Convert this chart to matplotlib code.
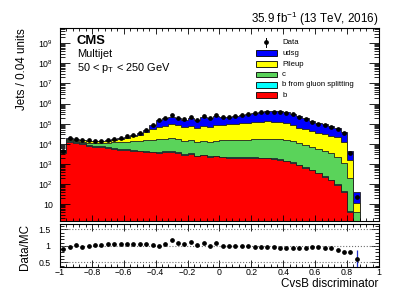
import numpy as np
import matplotlib
matplotlib.use("Agg")
import matplotlib.pyplot as plt
from matplotlib.patches import Rectangle
from matplotlib.lines import Line2D
from matplotlib.ticker import (MultipleLocator, FixedLocator, FuncFormatter,
                               LogLocator, NullFormatter)

plt.rcParams["font.family"] = ["Liberation Sans", "DejaVu Sans"]
plt.rcParams["mathtext.fontset"] = "custom"
plt.rcParams["mathtext.rm"] = "Liberation Sans"
plt.rcParams["mathtext.it"] = "Liberation Sans:italic"
plt.rcParams["mathtext.bf"] = "Liberation Sans:bold"

# --- binning: CvsB discriminator, 0.04 wide bins from -1 to 1 (filled up to 0.88) ---
X_LO, X_HI, N_BINS = -1.0, 1.0, 50

# --- MC components per bin (jets) ---
b = [3550, 12600, 10960, 9550, 8320, 7410, 6760, 6170, 5620, 5250,
     4900, 4570, 4270, 3980, 3800, 3720, 3890, 4170, 3630, 2820,
     3090, 2460, 2750, 2240, 2460, 2140, 2090, 2040, 2040, 2000,
     2000, 1950, 1910, 1780, 1620, 1410, 1180, 891, 661, 479,
     347, 240, 158, 95.5, 41.7, 4.2, 0]
b_gsplit = [180, 1500, 1300, 1150, 1000, 900, 800, 740, 670, 630,
            590, 370, 340, 320, 300, 300, 310, 330, 290, 230,
            250, 150, 170, 130, 150, 130, 125, 120, 120, 120,
            120, 115, 115, 105, 100, 85, 70, 55, 40, 30,
            20, 15, 10, 6, 3, 0.3, 0]
c = [253, 1050, 1230, 1320, 1700, 2300, 3160, 4310, 5460, 6420,
     7390, 8550, 9520, 10490, 11750, 12970, 13580, 14120, 12680, 10750,
     12150, 10280, 11530, 10510, 11850, 12520, 12930, 13330, 13690, 14100,
     14490, 14920, 15760, 16320, 15660, 13990, 12560, 9770, 8010, 6740,
     5260, 4210, 3220, 2190, 1030, 195, 4.2]
pileup = [696, 2240, 2730, 3120, 2700, 2560, 2770, 3230, 4100, 5480,
          7540, 10500, 14710, 23230, 37850, 53810, 63500, 76880, 66580, 55380,
          58640, 48780, 64980, 57910, 72650, 74340, 78190, 82230, 88850, 95980,
          100900, 108900, 114000, 110600, 102800, 91710, 69380, 53850, 43770, 36410,
          30690, 26430, 22310, 18600, 11810, 1350, 6.8]
udsg = [335, 1700, 1300, 1200, 1000, 700, 700, 750, 1100, 1270,
        1970, 2930, 5830, 12100, 29480, 77110, 104900, 133600, 103000, 93000,
        125400, 89700, 144500, 115400, 152800, 134800, 135800, 153500, 170700, 196800,
        221300, 245600, 275600, 288100, 287200, 255900, 233000, 180900, 133700, 91250,
        68390, 62430, 51920, 43680, 27860, 3020, 28.8]

# --- data ---
data = [4570, 19050, 17380, 15850, 14790, 13800, 14450, 15490, 17380, 19950,
        23440, 28180, 35480, 51290, 85110, 147900, 195000, 269200, 204200, 169800,
        223900, 154900, 245500, 186200, 263000, 223900, 229100, 251200, 269200, 302000,
        331100, 363100, 389000, 398100, 380200, 338800, 295100, 229100, 173800, 128800,
        100000, 87100, 72440, 57540, 33110, 3715, 24]

# --- ratio panel (Data/MC) ---
ratio = [0.91, 0.97, 1.01, 0.96, 1.00, 1.01, 1.03, 1.04, 1.04, 1.04,
         1.04, 1.04, 1.04, 1.04, 1.03, 1.00, 1.06, 1.17, 1.09, 1.04,
         1.12, 1.02, 1.10, 1.00, 1.09, 1.00, 1.00, 1.00, 0.98, 0.98,
         0.97, 0.97, 0.96, 0.95, 0.94, 0.93, 0.93, 0.94, 0.94, 0.95,
         0.95, 0.94, 0.93, 0.88, 0.81, 0.81, 0.61]
ratio_err = [0.02, 0.01, 0.01, 0.01, 0.01, 0.01, 0.01, 0.01, 0.01, 0.01,
             0.01, 0.01, 0.01, 0.01, 0.01, 0.01, 0.01, 0.01, 0.01, 0.01,
             0.01, 0.01, 0.01, 0.01, 0.01, 0.01, 0.01, 0.01, 0.01, 0.01,
             0.01, 0.01, 0.01, 0.01, 0.01, 0.01, 0.01, 0.01, 0.01, 0.01,
             0.01, 0.01, 0.01, 0.01, 0.01, 0.02, 0.25]

LAYERS = [
    ("b", b, "#ff0000"),
    ("b from gluon splitting", b_gsplit, "#00ffff"),
    ("c", c, "#5ad35a"),
    ("Pileup", pileup, "#ffff00"),
    ("udsg", udsg, "#0000ff"),
]

FONT_TICK = 6.3
FONT_TITLE = 8.4


def _tick_label(v, _pos):
    v = round(v, 6)
    if abs(v) < 1e-9:
        return "0"
    return f"{v:g}".replace("-", "\u2212")


def _log_label(v, _pos):
    k = int(round(np.log10(v)))
    return "10" if k == 1 else rf"$10^{{{k}}}$"


def main() -> None:
    n = len(data)
    edges = np.linspace(X_LO, X_HI, N_BINS + 1)[: n + 1]
    centers = 0.5 * (edges[:-1] + edges[1:])

    fig = plt.figure(figsize=(4.07, 2.93), dpi=100, facecolor="white")
    ax = fig.add_axes([0.1474, 0.2457, 0.7838, 0.6587])
    rax = fig.add_axes([0.1474, 0.0898, 0.7838, 0.1447])

    # stacked MC: draw cumulative sums from the top down, like THStack
    stack = np.cumsum(np.vstack([np.asarray(v, float) for _, v, _ in LAYERS]), axis=0)
    for k in range(len(LAYERS) - 1, -1, -1):
        ax.stairs(stack[k], edges, baseline=1e-2, fill=True,
                  facecolor=LAYERS[k][2], edgecolor="#202020", linewidth=0.6)

    ax.plot(centers, data, "o", color="black", markersize=2.4, zorder=5)

    ax.set_xlim(X_LO, X_HI)
    ax.set_yscale("log")
    ax.set_ylim(1.48, 5.7e9)
    ax.xaxis.set_major_locator(MultipleLocator(0.2))
    ax.xaxis.set_minor_locator(MultipleLocator(0.04))
    ax.yaxis.set_major_locator(FixedLocator([10.0 ** k for k in range(1, 10)]))
    ax.yaxis.set_major_formatter(FuncFormatter(_log_label))
    ax.yaxis.set_minor_locator(LogLocator(base=10, subs=np.arange(2, 10), numticks=100))
    ax.yaxis.set_minor_formatter(NullFormatter())
    ax.tick_params(which="both", direction="in", top=True, right=True, width=0.6)
    ax.tick_params(axis="y", which="major", length=7.5, pad=5, labelsize=FONT_TICK)
    ax.tick_params(axis="y", which="minor", length=3.8)
    ax.tick_params(axis="x", which="major", length=4.5, labelbottom=False)
    ax.tick_params(axis="x", which="minor", length=2.2)
    for s in ax.spines.values():
        s.set_linewidth(0.8)

    # legend
    leg_x0, leg_w, leg_h = 0.614, 0.066, 0.029
    leg_rows = [0.926, 0.869, 0.813, 0.760, 0.705, 0.652]
    ax.plot([leg_x0 + leg_w / 2], [leg_rows[0]], "o", color="black", markersize=2.4,
            transform=ax.transAxes)
    ax.add_line(Line2D([leg_x0 + leg_w / 2] * 2, [leg_rows[0] - 0.022, leg_rows[0] + 0.022],
                       color="black", lw=0.7, transform=ax.transAxes))
    ax.text(leg_x0 + 0.082, leg_rows[0], "Data", transform=ax.transAxes,
            fontsize=5.6, va="center", ha="left")
    for row, (label, _, col) in zip(leg_rows[1:], LAYERS[::-1]):
        ax.add_patch(Rectangle((leg_x0, row - leg_h / 2), leg_w, leg_h, facecolor=col,
                               edgecolor="black", linewidth=0.6, transform=ax.transAxes))
        ax.text(leg_x0 + 0.082, row, label, transform=ax.transAxes,
                fontsize=5.6, va="center", ha="left")

    ax.text(0.053, 0.933, "CMS", transform=ax.transAxes, fontsize=9.4,
            fontweight="bold", va="center", ha="left")
    ax.text(0.053, 0.865, "Multijet", transform=ax.transAxes, fontsize=7.9,
            va="center", ha="left")
    ax.text(0.053, 0.793, r"50 < p$_\mathregular{T}$ < 250 GeV", transform=ax.transAxes,
            fontsize=7.9, va="center", ha="left")

    fig.text(0.929, 0.935, r"35.9 fb$^{\mathregular{-1}}$ (13 TeV, 2016)", fontsize=8.4,
             ha="right", va="center")
    fig.text(0.055, 0.904, "Jets / 0.04 units", rotation=90, fontsize=FONT_TITLE,
             ha="center", va="top")

    # ratio panel
    for yl in (0.5, 1.0, 1.5):
        rax.axhline(yl, color="#707070", linestyle=":", linewidth=0.8)
    rax.errorbar(centers, ratio, yerr=ratio_err, fmt="o", color="black", markersize=2.4,
                 ecolor="#2030c8", elinewidth=0.9, capsize=0, zorder=5)
    rax.set_xlim(X_LO, X_HI)
    rax.set_ylim(0.37, 1.65)
    rax.xaxis.set_major_locator(MultipleLocator(0.2))
    rax.xaxis.set_minor_locator(MultipleLocator(0.04))
    rax.xaxis.set_major_formatter(FuncFormatter(_tick_label))
    rax.yaxis.set_major_locator(FixedLocator([0.5, 1.0, 1.5]))
    rax.yaxis.set_major_formatter(FuncFormatter(_tick_label))
    rax.yaxis.set_minor_locator(MultipleLocator(0.1))
    rax.tick_params(which="both", direction="in", top=True, right=True, width=0.6)
    rax.tick_params(axis="y", which="major", length=6, pad=7, labelsize=FONT_TICK)
    rax.tick_params(axis="y", which="minor", length=3)
    rax.tick_params(axis="x", which="major", length=5, pad=1, labelsize=FONT_TICK)
    rax.tick_params(axis="x", which="minor", length=2.5)
    for s in rax.spines.values():
        s.set_linewidth(0.8)

    fig.text(0.062, 0.157, "Data/MC", rotation=90, fontsize=FONT_TITLE,
             ha="center", va="center")
    fig.text(0.929, 0.031, "CvsB discriminator", fontsize=FONT_TITLE,
             ha="right", va="center")

    fig.savefig("out.png", dpi=100, facecolor="white")
    plt.close(fig)


if __name__ == "__main__":
    main()
